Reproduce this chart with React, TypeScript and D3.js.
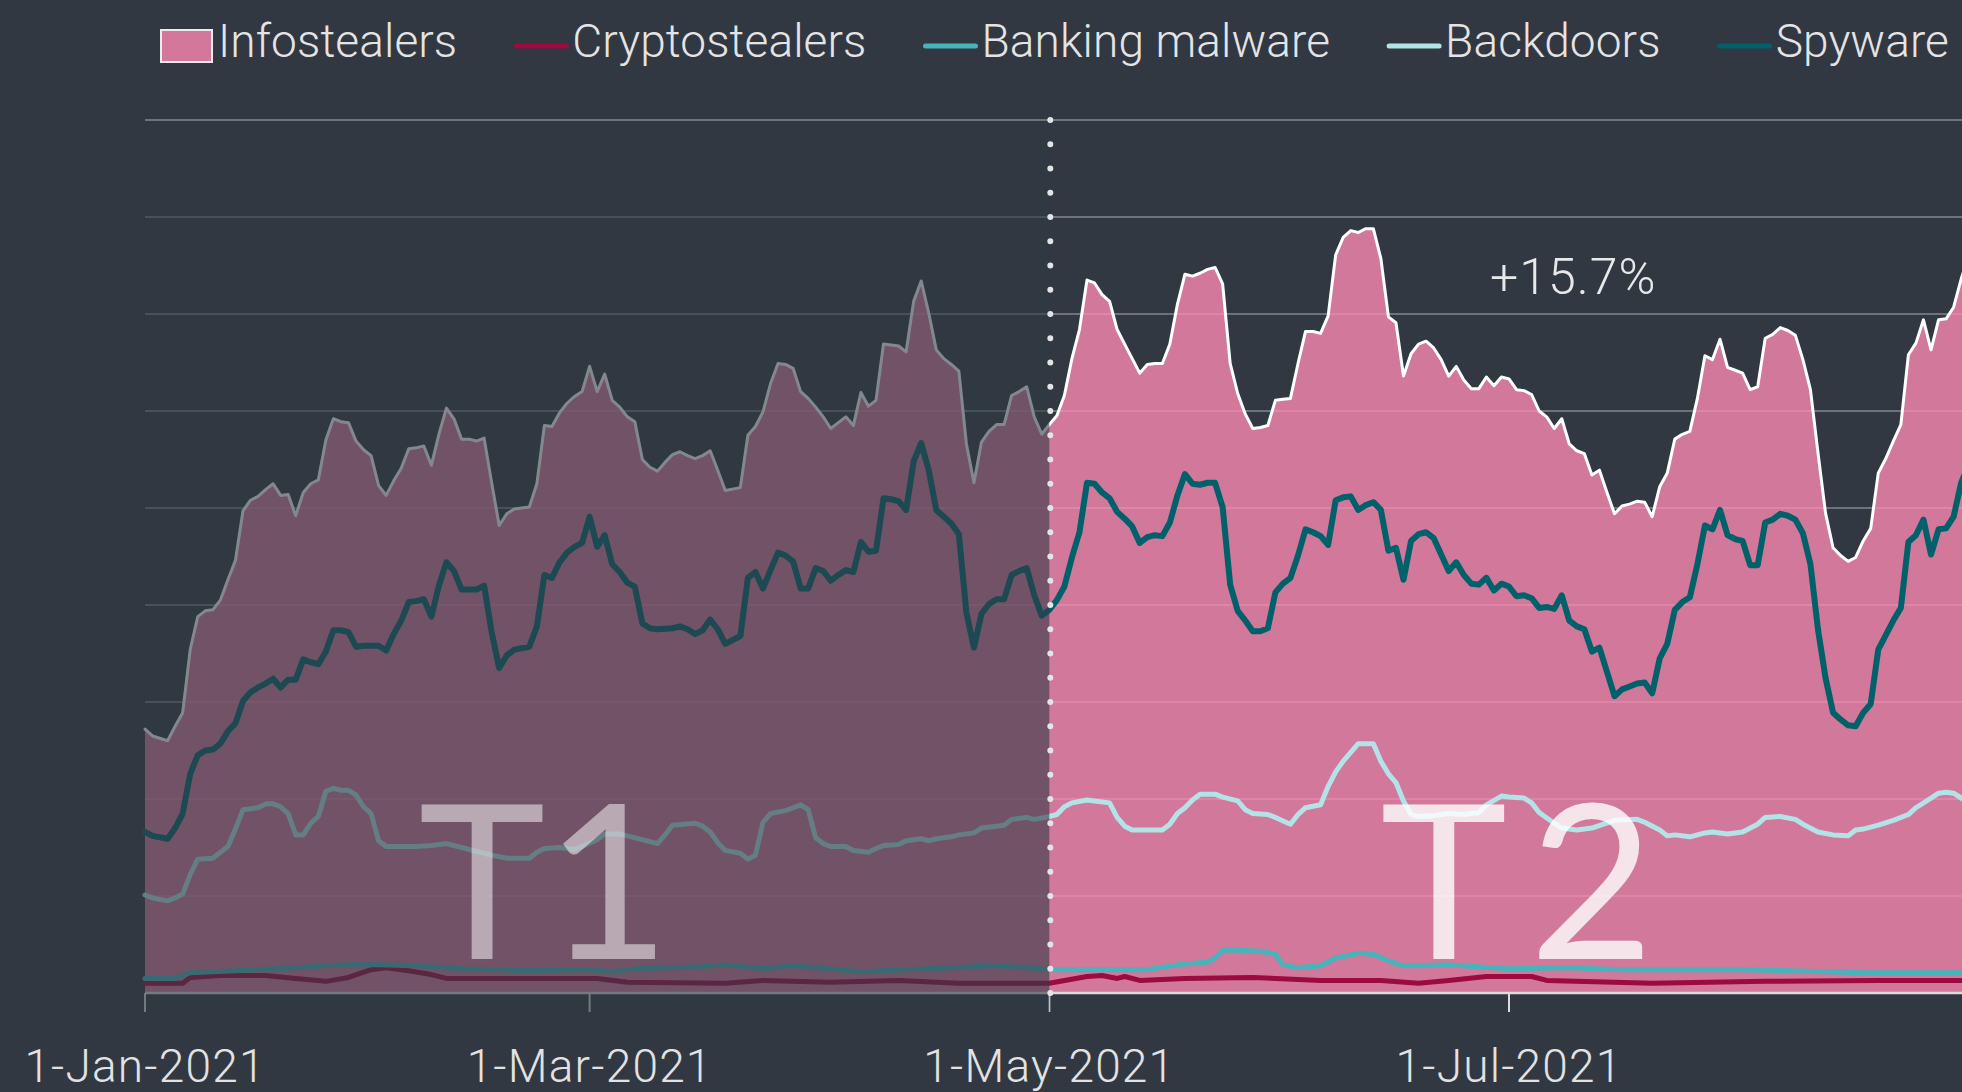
import React, { useEffect, useRef } from "react";
import * as d3 from "d3";

// first item = days since 1-Jan-2021
const START = Date.UTC(2021, 0, 1);
const SPLIT = Date.UTC(2021, 4, 1);
const tickDates = [Date.UTC(2021, 0, 1), Date.UTC(2021, 2, 1), Date.UTC(2021, 4, 1), Date.UTC(2021, 6, 1)];
const gridValues = [100, 200, 300, 400, 500, 600, 700, 800, 900];

const infostealers: [number, number][] = [
  [0, 272], [1, 265], [3, 260], [4, 275], [5, 289], [6, 354], [7, 388], [8, 394], [9, 395], [10, 405],
  [11, 426], [12, 446], [13, 497], [14, 508], [15, 512], [16, 519], [17, 525], [18, 513], [19, 514], [20, 492],
  [21, 516], [22, 525], [23, 529], [24, 570], [25, 592], [26, 589], [27, 588], [28, 569], [29, 560], [30, 554],
  [31, 523], [32, 513], [33, 528], [34, 541], [35, 561], [36, 562], [37, 564], [38, 544], [39, 576], [40, 603],
  [41, 592], [42, 571], [43, 571], [44, 569], [45, 572], [46, 526], [47, 482], [48, 494], [49, 499], [51, 501],
  [52, 525], [53, 585], [54, 584], [55, 598], [56, 608], [57, 615], [58, 620], [59, 646], [60, 620], [61, 638],
  [62, 611], [63, 604], [64, 594], [65, 589], [66, 550], [67, 542], [68, 538], [69, 547], [70, 555], [71, 558],
  [72, 554], [73, 551], [74, 554], [75, 559], [76, 539], [77, 518], [79, 521], [80, 575], [81, 584], [82, 599],
  [83, 628], [84, 649], [85, 648], [86, 644], [87, 620], [88, 613], [89, 604], [90, 594], [91, 582], [92, 588],
  [93, 594], [94, 585], [95, 619], [96, 605], [97, 611], [98, 669], [99, 668], [100, 667], [101, 661], [102, 713],
  [103, 734], [104, 701], [105, 663], [106, 654], [107, 648], [108, 641], [109, 566], [110, 526], [111, 568], [112, 579],
  [113, 586], [114, 586], [115, 616], [116, 620], [117, 625], [118, 594], [119, 576], [120, 586], [121, 595], [122, 616],
  [123, 654], [124, 684], [125, 735], [126, 732], [127, 720], [128, 713], [129, 684], [130, 669], [131, 654], [132, 639],
  [133, 648], [134, 649], [135, 649], [136, 669], [137, 710], [138, 741], [139, 739], [140, 742], [141, 746], [142, 748],
  [143, 731], [144, 649], [145, 618], [146, 597], [147, 582], [148, 583], [149, 585], [150, 611], [151, 612], [152, 613],
  [153, 649], [154, 682], [155, 682], [156, 680], [157, 698], [158, 761], [159, 779], [160, 786], [161, 784], [162, 788],
  [163, 788], [164, 757], [165, 697], [166, 691], [167, 636], [168, 659], [169, 669], [170, 672], [171, 665], [172, 653],
  [173, 636], [174, 646], [175, 632], [176, 623], [177, 623], [178, 635], [179, 626], [180, 635], [181, 633], [182, 622],
  [183, 621], [184, 617], [185, 600], [186, 594], [187, 582], [188, 592], [189, 566], [190, 559], [191, 556], [192, 534],
  [193, 539], [194, 516], [195, 494], [196, 502], [197, 504], [198, 507], [199, 506], [200, 491], [201, 522], [202, 536],
  [203, 571], [204, 576], [205, 579], [206, 613], [207, 657], [208, 653], [209, 674], [210, 645], [211, 642], [212, 639],
  [213, 622], [214, 625], [215, 675], [216, 679], [217, 686], [218, 683], [219, 678], [220, 653], [221, 622], [222, 557],
  [223, 495], [224, 459], [225, 451], [226, 445], [227, 449], [228, 466], [229, 479], [230, 536], [231, 551], [232, 569],
  [233, 586], [234, 658], [235, 670], [236, 694], [237, 663], [238, 694], [239, 695], [240, 707], [241, 736], [242, 760],
];

const spyware: [number, number][] = [
  [0, 166], [1, 162], [3, 159], [4, 170], [5, 185], [6, 226], [7, 245], [8, 250], [9, 251], [10, 257],
  [11, 270], [12, 278], [13, 301], [14, 310], [15, 315], [16, 319], [17, 324], [18, 315], [19, 323], [20, 323],
  [21, 344], [22, 341], [23, 339], [24, 352], [25, 374], [26, 374], [27, 372], [28, 357], [29, 358], [31, 358],
  [32, 353], [33, 370], [34, 384], [35, 403], [36, 404], [37, 406], [38, 388], [39, 420], [40, 444], [41, 435],
  [42, 416], [44, 416], [45, 420], [46, 372], [47, 335], [48, 348], [49, 354], [51, 357], [52, 378], [53, 431],
  [54, 428], [55, 444], [56, 454], [57, 460], [58, 464], [59, 491], [60, 460], [61, 472], [62, 442], [63, 434],
  [64, 423], [65, 419], [66, 381], [67, 376], [68, 375], [70, 376], [71, 378], [72, 375], [73, 370], [74, 374],
  [75, 385], [76, 375], [77, 360], [79, 368], [80, 428], [81, 434], [82, 417], [83, 436], [84, 454], [85, 451],
  [86, 445], [87, 417], [88, 417], [89, 438], [90, 435], [91, 425], [92, 431], [93, 436], [94, 434], [95, 465],
  [96, 455], [97, 456], [98, 510], [99, 509], [100, 507], [101, 498], [102, 548], [103, 567], [104, 539], [105, 498],
  [106, 491], [107, 484], [108, 473], [109, 392], [110, 356], [111, 391], [112, 401], [113, 406], [114, 406], [115, 431],
  [116, 435], [117, 438], [118, 410], [119, 389], [120, 395], [121, 405], [122, 419], [123, 449], [124, 475], [125, 526],
  [126, 525], [127, 516], [128, 510], [129, 496], [130, 489], [131, 481], [132, 464], [133, 470], [134, 472], [135, 471],
  [136, 485], [137, 513], [138, 535], [139, 525], [140, 524], [141, 526], [142, 526], [143, 501], [144, 421], [145, 394],
  [146, 384], [147, 373], [148, 373], [149, 376], [150, 413], [151, 422], [152, 428], [153, 451], [154, 478], [155, 475],
  [156, 471], [157, 462], [158, 508], [159, 511], [160, 512], [161, 498], [162, 503], [163, 506], [164, 498], [165, 456],
  [166, 459], [167, 426], [168, 466], [169, 473], [170, 475], [171, 469], [172, 452], [173, 435], [174, 444], [175, 431],
  [176, 422], [177, 421], [178, 428], [179, 415], [180, 422], [181, 419], [182, 409], [183, 410], [184, 407], [185, 397],
  [186, 398], [187, 396], [188, 410], [189, 384], [190, 378], [191, 375], [192, 352], [193, 356], [194, 331], [195, 306],
  [196, 313], [197, 316], [198, 319], [199, 320], [200, 309], [201, 345], [202, 360], [203, 395], [204, 403], [205, 408],
  [206, 442], [207, 482], [208, 478], [209, 498], [210, 472], [211, 468], [212, 466], [213, 441], [214, 441], [215, 485],
  [216, 488], [217, 494], [218, 492], [219, 488], [220, 474], [221, 442], [222, 375], [223, 325], [224, 289], [225, 282],
  [226, 276], [227, 275], [228, 289], [229, 298], [230, 354], [231, 369], [232, 384], [233, 397], [234, 465], [235, 472],
  [236, 488], [237, 452], [238, 478], [239, 479], [240, 491], [241, 526], [242, 545],
];

const backdoors: [number, number][] = [
  [0, 101], [1, 98], [3, 95], [4, 98], [5, 102], [6, 122], [7, 138], [9, 139], [10, 145], [11, 151],
  [12, 169], [13, 189], [15, 191], [16, 195], [17, 195], [18, 192], [19, 185], [20, 163], [21, 163], [22, 175],
  [23, 182], [24, 208], [25, 211], [26, 209], [27, 209], [28, 204], [29, 192], [30, 185], [31, 157], [32, 151],
  [36, 151], [38, 152], [40, 154], [42, 150], [44, 146], [46, 142], [48, 139], [51, 139], [52, 145], [53, 149],
  [55, 150], [57, 148], [58, 151], [60, 158], [61, 164], [63, 164], [65, 160], [67, 156], [68, 154], [69, 163],
  [70, 173], [73, 175], [74, 172], [75, 166], [76, 155], [77, 147], [79, 144], [80, 138], [81, 142], [82, 176],
  [83, 185], [85, 188], [86, 191], [87, 194], [88, 189], [89, 160], [90, 154], [91, 151], [93, 151], [94, 147],
  [96, 145], [97, 149], [98, 152], [100, 153], [101, 157], [103, 159], [104, 157], [105, 159], [107, 161], [108, 163],
  [110, 165], [111, 170], [113, 172], [114, 173], [115, 179], [117, 181], [118, 179], [120, 182], [121, 184], [122, 192],
  [123, 196], [125, 199], [126, 198], [128, 196], [129, 181], [130, 172], [131, 168], [135, 168], [136, 174], [137, 185],
  [138, 191], [139, 199], [140, 205], [142, 205], [143, 202], [145, 198], [146, 189], [147, 185], [149, 184], [150, 181],
  [152, 174], [153, 184], [154, 191], [156, 194], [157, 213], [158, 228], [159, 239], [160, 248], [161, 257], [163, 257],
  [164, 239], [165, 226], [166, 217], [167, 198], [168, 184], [169, 182], [171, 183], [173, 185], [175, 184], [177, 186],
  [178, 194], [180, 203], [181, 202], [183, 201], [184, 196], [185, 186], [187, 175], [188, 170], [190, 168], [192, 170],
  [195, 178], [198, 179], [199, 176], [201, 168], [202, 162], [203, 163], [205, 161], [207, 165], [208, 166], [210, 164],
  [212, 166], [214, 174], [215, 181], [217, 182], [219, 179], [220, 174], [222, 166], [224, 163], [226, 162], [227, 168],
  [228, 169], [230, 173], [232, 178], [234, 184], [235, 191], [237, 201], [238, 206], [239, 207], [240, 206], [241, 201],
  [242, 196],
];

const banking: [number, number][] = [
  [0, 15], [4, 15], [6, 21], [12, 23], [20, 26], [26, 29], [31, 29], [36, 28], [42, 25], [50, 23],
  [59, 24], [62, 22], [65, 25], [74, 27], [77, 29], [82, 25], [86, 28], [95, 22], [104, 25], [113, 28],
  [117, 26], [120, 24], [133, 24], [137, 29], [141, 32], [142, 36], [143, 44], [145, 44], [148, 43], [150, 40],
  [151, 29], [153, 26], [156, 28], [158, 36], [161, 41], [163, 40], [165, 33], [167, 28], [169, 28], [173, 29],
  [181, 25], [189, 26], [196, 24], [212, 24], [228, 21], [242, 21],
];

const cryptostealers: [number, number][] = [
  [0, 10], [5, 10], [6, 16], [10, 18], [16, 18], [20, 15], [24, 12], [27, 16], [30, 24], [32, 26],
  [35, 23], [38, 19], [40, 15], [44, 15], [60, 15], [64, 11], [77, 10], [82, 13], [91, 11], [100, 13],
  [108, 10], [120, 10], [125, 17], [127, 18], [129, 15], [130, 17], [132, 13], [138, 15], [147, 16], [156, 13],
  [164, 13], [169, 10], [173, 13], [178, 17], [184, 17], [186, 13], [200, 10], [215, 12], [230, 13], [242, 13],
];

const legendNames = ["Infostealers", "Cryptostealers", "Banking malware", "Backdoors", "Spyware"];
const legendColors = ["#d3789b", "#9b0a40", "#47b3ba", "#b3e3e6", "#00616a"];
const periodLabels = [["T", "1"], ["T", "2"]];
const changeLabel = "+15.7%";

const BG = "#313842";
const W = 1962;
const H = 1092;
const FONT = "Roboto, 'Open Sans', sans-serif";

export default function App() {
  const ref = useRef<SVGSVGElement>(null);

  useEffect(() => {
    const svg = d3.select(ref.current);
    svg.selectAll("*").remove();

    const margin = { left: 145, top: 120, bottom: 993 };
    const dayDate = (d: number) => d3.utcDay.offset(new Date(START), d);

    const x = d3
      .scaleUtc()
      .domain([new Date(tickDates[0]), new Date(tickDates[3])])
      .range([margin.left, 1509]);
    const y = d3.scaleLinear().domain([0, 900]).range([margin.bottom, margin.top]);

    svg.append("rect").attr("width", W).attr("height", H).attr("fill", BG);

    // gridlines
    svg
      .append("g")
      .selectAll("line")
      .data(gridValues)
      .enter()
      .append("line")
      .attr("x1", margin.left)
      .attr("x2", W)
      .attr("y1", (d) => y(d))
      .attr("y2", (d) => y(d))
      .attr("stroke", "#6c737d")
      .attr("stroke-width", 2);

    const line = d3
      .line<[number, number]>()
      .x((d) => x(dayDate(d[0])))
      .y((d) => y(d[1]));

    const area = d3
      .area<[number, number]>()
      .x((d) => x(dayDate(d[0])))
      .y0(y(0))
      .y1((d) => y(d[1]));

    svg
      .append("path")
      .datum(infostealers)
      .attr("d", area)
      .attr("fill", "#ff8ab5")
      .attr("fill-opacity", 0.78);

    const lines: [[number, number][], string, number][] = [
      [cryptostealers, legendColors[1], 5],
      [banking, legendColors[2], 5],
      [backdoors, legendColors[3], 5],
      [spyware, legendColors[4], 6],
      [infostealers, "#ffffff", 3],
    ];
    lines.forEach(([data, color, width]) => {
      svg
        .append("path")
        .datum(data)
        .attr("d", line)
        .attr("fill", "none")
        .attr("stroke", color)
        .attr("stroke-width", width)
        .attr("stroke-linejoin", "round")
        .attr("stroke-linecap", "round");
    });

    // x axis
    svg
      .append("line")
      .attr("x1", margin.left)
      .attr("x2", W)
      .attr("y1", y(0))
      .attr("y2", y(0))
      .attr("stroke", "#dcdcdc")
      .attr("stroke-width", 2.5);

    svg
      .append("g")
      .selectAll("line")
      .data(tickDates)
      .enter()
      .append("line")
      .attr("x1", (d) => x(new Date(d)))
      .attr("x2", (d) => x(new Date(d)))
      .attr("y1", y(0))
      .attr("y2", y(0) + 19)
      .attr("stroke", "#dcdcdc")
      .attr("stroke-width", 2);

    // dim the first period
    svg
      .append("rect")
      .attr("x", 0)
      .attr("y", y(900) + 2)
      .attr("width", x(new Date(SPLIT)))
      .attr("height", y(0) + 24 - (y(900) + 2))
      .attr("fill", BG)
      .attr("fill-opacity", 0.6);

    // dotted split line
    svg
      .append("line")
      .attr("x1", x(new Date(SPLIT)) + 1)
      .attr("x2", x(new Date(SPLIT)) + 1)
      .attr("y1", y(0))
      .attr("y2", y(900) - 2)
      .attr("stroke", "#e4e4e4")
      .attr("stroke-width", 6)
      .attr("stroke-linecap", "round")
      .attr("stroke-dasharray", "0 24.25");

    // period labels
    const periodCenters = [x(d3.utcDay.offset(new Date(START), 53)), x(new Date(tickDates[3])) + 8];
    const periodGaps = [0, 22];
    const labels = svg
      .append("g")
      .selectAll("text")
      .data(periodLabels)
      .enter()
      .append("text")
      .attr("x", (d, i) => periodCenters[i])
      .attr("y", 959)
      .attr("text-anchor", "middle")
      .attr("font-family", "Lato, 'DejaVu Sans', sans-serif")
      .attr("font-size", 215)
      .attr("fill", "#ffffff")
      .attr("fill-opacity", (d, i) => (i === 0 ? 0.5 : 0.8));
    labels.append("tspan").text((d) => d[0]);
    labels
      .append("tspan")
      .attr("dx", (d, i) => periodGaps[i])
      .text((d) => d[1]);

    // change annotation
    svg
      .append("text")
      .attr("x", x(d3.utcDay.offset(new Date(START), 189)) + 4)
      .attr("y", 294)
      .attr("text-anchor", "middle")
      .attr("font-family", FONT)
      .attr("font-weight", 300)
      .attr("font-size", 50)
      .attr("letter-spacing", 1)
      .attr("fill", "#e8e8e8")
      .text(changeLabel);

    // tick labels
    const fmt = d3.utcFormat("%-d-%b-%Y");
    svg
      .append("g")
      .selectAll("text")
      .data(tickDates)
      .enter()
      .append("text")
      .attr("x", (d) => x(new Date(d)))
      .attr("y", 1082)
      .attr("text-anchor", "middle")
      .attr("font-family", FONT)
      .attr("font-weight", 300)
      .attr("font-size", 46)
      .attr("letter-spacing", 1.2)
      .attr("fill", "#e2e2e2")
      .text((d) => fmt(new Date(d)));

    // legend
    const legend = svg.append("g");
    let cx = 161;
    legendNames.forEach((name, i) => {
      if (i === 0) {
        legend
          .append("rect")
          .attr("x", cx)
          .attr("y", 30)
          .attr("width", 51)
          .attr("height", 32)
          .attr("fill", legendColors[0])
          .attr("stroke", "#ececec")
          .attr("stroke-width", 2);
        cx += 57;
      } else {
        legend
          .append("line")
          .attr("x1", cx + 2)
          .attr("x2", cx + 52)
          .attr("y1", 46)
          .attr("y2", 46)
          .attr("stroke", legendColors[i])
          .attr("stroke-width", 5)
          .attr("stroke-linecap", "round");
        cx += 58;
      }
      const t = legend
        .append("text")
        .attr("x", cx)
        .attr("y", 57)
        .attr("font-family", FONT)
        .attr("font-weight", 300)
        .attr("font-size", 46)
        .attr("letter-spacing", 0.1)
        .attr("fill", "#e4e4e4")
        .text(name);
      const len = (t.node() as SVGTextElement).getComputedTextLength();
      cx += len + 57;
    });
  }, []);

  return (
    <svg
      ref={ref}
      width={W}
      height={H}
      style={{ position: "absolute", left: 0, top: 0, display: "block" }}
    />
  );
}
